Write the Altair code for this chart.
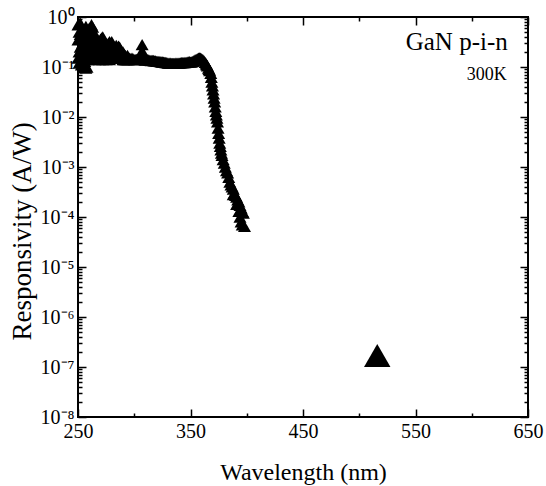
import altair as alt
import pandas as pd

# ---- data ----
WAVELENGTH = [
    250, 250, 250, 251, 251, 251, 252, 252, 252, 253, 253, 253,
    254, 254, 254, 255, 255, 255, 256, 256, 256, 257, 257, 257,
    258, 258, 258, 259, 259, 259, 260, 260, 260, 261, 261, 261,
    262, 262, 262, 263, 263, 263, 264, 264, 264, 265, 265, 265,
    266, 266, 267, 267, 267, 268, 268, 269, 269, 269, 270, 270,
    271, 271, 272, 272, 272, 273, 273, 274, 274, 275, 275, 275,
    276, 276, 277, 277, 278, 278, 278, 279, 279, 280, 280, 281, 281,
    282, 282, 283, 283, 284, 284, 285, 285, 286, 286, 287, 287,
    288, 288, 289, 289, 290, 290, 291, 291, 292, 292, 293, 293,
    294, 294, 295, 295,
    296, 297, 298, 299, 300, 301, 302, 303, 304, 305, 306, 307, 307, 307,
    308, 309, 310, 311, 312, 313, 314, 315, 316, 317, 318, 319, 320,
    321, 322, 323, 324, 325, 326, 327, 328, 329, 330, 331, 332, 333,
    334, 335, 336, 337, 338, 339, 340, 341, 342, 343, 344, 345, 346,
    347, 348, 349, 350, 351, 352, 353, 354, 355, 356, 357, 358, 359,
    360, 361, 362, 363, 364, 365, 366, 367, 368, 369, 370, 371, 372,
    373, 374, 375, 376, 377, 378, 379, 380, 381, 382, 383, 384, 385,
    386, 387, 388, 389, 390, 391, 392, 393, 394, 395, 396, 397,
    388, 391, 393, 394, 395, 396, 398,
    364.5, 366.5, 368.5, 369.5, 370.5, 371.5, 372.5, 373.5, 374.5,
    375.5, 376.5, 377.5,
]
RESPONSIVITY = [
    0.35, 0.7, 0.15, 0.5, 0.2, 0.12, 0.25, 0.45, 0.75, 0.18, 0.4, 0.11,
    0.3, 0.6, 0.15, 0.22, 0.45, 0.1, 0.55, 0.2, 0.13, 0.3, 0.65, 0.095,
    0.4, 0.18, 0.1, 0.25, 0.5, 0.14, 0.45, 0.2, 0.6, 0.3, 0.55, 0.16,
    0.5, 0.25, 0.7, 0.63, 0.3, 0.18, 0.5, 0.22, 0.15, 0.4, 0.2, 0.14,
    0.35, 0.18, 0.3, 0.25, 0.15, 0.28, 0.17, 0.33, 0.2, 0.14, 0.36, 0.2,
    0.38, 0.17, 0.4, 0.22, 0.14, 0.35, 0.18, 0.3, 0.16, 0.28, 0.2, 0.14,
    0.26, 0.16, 0.3, 0.18, 0.32, 0.2, 0.14, 0.3, 0.17, 0.32, 0.2, 0.28, 0.15,
    0.25, 0.18, 0.22, 0.15, 0.27, 0.16, 0.24, 0.15, 0.26, 0.17, 0.25, 0.15,
    0.22, 0.16, 0.2, 0.15, 0.2, 0.14, 0.18, 0.14, 0.17, 0.14, 0.16, 0.14,
    0.17, 0.14, 0.15, 0.14,
    0.15, 0.145, 0.15, 0.145, 0.14, 0.14, 0.142, 0.14, 0.145, 0.145, 0.15, 0.15, 0.28, 0.21,
    0.145, 0.14, 0.138, 0.14, 0.14, 0.138, 0.136, 0.135, 0.136, 0.135, 0.133, 0.132, 0.13,
    0.13, 0.13, 0.128, 0.127, 0.126, 0.125, 0.124, 0.123, 0.122, 0.12, 0.12, 0.12, 0.118,
    0.118, 0.118, 0.118, 0.119, 0.12, 0.12, 0.12, 0.121, 0.122, 0.122, 0.122, 0.123, 0.124,
    0.125, 0.126, 0.128, 0.125, 0.127, 0.13, 0.134, 0.138, 0.142, 0.146, 0.15, 0.152, 0.15,
    0.146, 0.14, 0.132, 0.124, 0.115, 0.105, 0.095, 0.085, 0.075, 0.05, 0.035, 0.024, 0.016,
    0.011, 0.008, 0.0047, 0.003, 0.0022, 0.0017, 0.0014, 0.0012, 0.001, 0.00085, 0.00076, 0.00062, 0.0005,
    0.00044, 0.0004, 0.00036, 0.0003, 0.00027, 0.00025, 0.00022, 0.0002, 0.00017, 0.00015, 0.00013, 0.00012,
    0.00028, 0.00018, 0.00013, 0.0001, 0.00008, 0.00007, 0.000065,
    0.11, 0.09, 0.062, 0.042, 0.029, 0.02, 0.013, 0.0095, 0.006,
    0.0038, 0.0026, 0.0019,
]
ISOLATED_WL = [516]
ISOLATED_R = [1.7e-7]

X_MAJOR = [250, 350, 450, 550, 650]
X_MINOR = [300, 400, 500, 600]
Y_MAJOR = [1e-8, 1e-7, 1e-6, 1e-5, 1e-4, 1e-3, 1e-2, 1e-1, 1]
Y_LABELS = ["10⁻⁸", "10⁻⁷", "10⁻⁶", "10⁻⁵", "10⁻⁴", "10⁻³", "10⁻²", "10⁻¹", "10⁰"]
Y_MINOR = [m * 10.0 ** e for e in range(-8, 0) for m in range(2, 10)]

ANNOT_TEXT = ["GaN p-i-n", "300K"]
ANNOT_WL = [632, 631]
ANNOT_R = [0.22, 0.055]

df = pd.DataFrame({"wl": WAVELENGTH, "r": RESPONSIVITY})
df_iso = pd.DataFrame({"wl": ISOLATED_WL, "r": ISOLATED_R})
df_a1 = pd.DataFrame({"wl": ANNOT_WL[:1], "r": ANNOT_R[:1], "t": ANNOT_TEXT[:1]})
df_a2 = pd.DataFrame({"wl": ANNOT_WL[1:], "r": ANNOT_R[1:], "t": ANNOT_TEXT[1:]})

FONT = "Liberation Serif"
x_scale = alt.Scale(domain=[250, 650], nice=False, zero=False)
y_scale = alt.Scale(type="log", domain=[1e-8, 1], nice=False)

lab_expr = "[" + ",".join("'%s'" % s for s in Y_LABELS) + "][round(log(datum.value)/LN10) + 8]"

common = dict(domain=False, tickColor="black", tickWidth=1.5, grid=False)

x_major_bottom = alt.Axis(
    orient="bottom", values=X_MAJOR, offset=-8, tickSize=8, labelPadding=4,
    labelFont=FONT, labelFontSize=20, labelColor="black", labelFlush=False,
    format="d", title="Wavelength (nm)", titleFont=FONT, titleFontSize=24,
    titleFontWeight="normal", titleColor="black", titleBaseline="alphabetic",
    titleY=70, **common)
y_major_left = alt.Axis(
    orient="left", values=Y_MAJOR, offset=-8, tickSize=8, labelPadding=4,
    labelFont=FONT, labelFontSize=20, labelColor="black", labelExpr=lab_expr,
    labelOverlap=False, title="Responsivity (A/W)", titleFont=FONT,
    titleFontSize=27, titleFontWeight="normal", titleColor="black",
    titleBaseline="alphabetic", titleX=-56, titleY=214, **common)


def tick_axis(orient, values, size):
    return alt.Axis(orient=orient, values=values, offset=-size, tickSize=size,
                    labels=False, title=None, **common)


main = alt.Chart(df).mark_point(
    shape="triangle-up", filled=True, color="black", size=170, opacity=1
).encode(
    x=alt.X("wl:Q", scale=x_scale, axis=x_major_bottom),
    y=alt.Y("r:Q", scale=y_scale, axis=y_major_left),
)


def axes_layer(xa, ya):
    return alt.Chart(df).mark_point(opacity=0).encode(
        x=alt.X("wl:Q", scale=x_scale, axis=xa),
        y=alt.Y("r:Q", scale=y_scale, axis=ya),
    )


minor_bl = axes_layer(tick_axis("bottom", X_MINOR, 4), tick_axis("left", Y_MINOR, 4))
major_tr = axes_layer(tick_axis("top", X_MAJOR, 8), tick_axis("right", Y_MAJOR, 8))
minor_tr = axes_layer(tick_axis("top", X_MINOR, 4), tick_axis("right", Y_MINOR, 4))

iso = alt.Chart(df_iso).mark_point(
    shape="triangle-up", filled=True, color="black", size=700, opacity=1
).encode(
    x=alt.X("wl:Q", scale=x_scale, axis=None),
    y=alt.Y("r:Q", scale=y_scale, axis=None),
)

ann1 = alt.Chart(df_a1).mark_text(
    font=FONT, fontSize=25, color="black", align="right", baseline="alphabetic"
).encode(
    x=alt.X("wl:Q", scale=x_scale, axis=None),
    y=alt.Y("r:Q", scale=y_scale, axis=None),
    text="t:N",
)
ann2 = alt.Chart(df_a2).mark_text(
    font=FONT, fontSize=18, color="black", align="right", baseline="alphabetic"
).encode(
    x=alt.X("wl:Q", scale=x_scale, axis=None),
    y=alt.Y("r:Q", scale=y_scale, axis=None),
    text="t:N",
)

chart = alt.layer(
    main, minor_bl, major_tr, minor_tr, iso, ann1, ann2
).resolve_axis(
    x="independent", y="independent"
).properties(
    width=450, height=400,
    padding={"left": 78, "top": 17, "right": 18, "bottom": 69},
    autosize=alt.AutoSizeParams(type="none"),
    background="white",
).configure_view(
    stroke="black", strokeWidth=2
)

chart.save("out.html", embed_options={"renderer": "svg", "actions": False})
